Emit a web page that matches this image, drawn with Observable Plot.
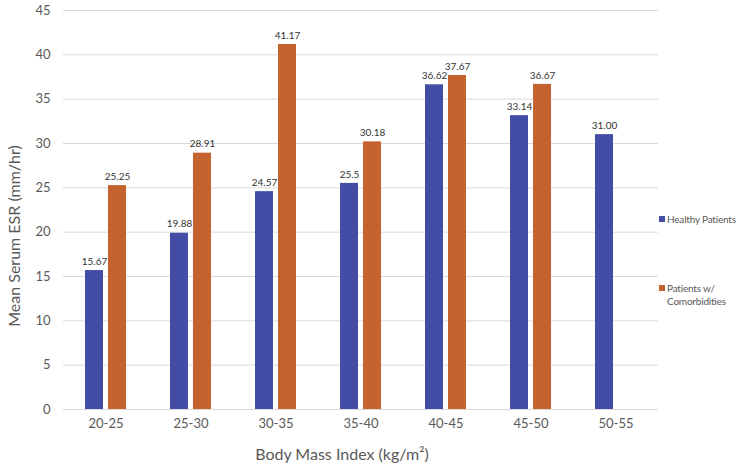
<!DOCTYPE html>
<html>
<head>
<meta charset="utf-8">
<script src="https://cdn.jsdelivr.net/npm/d3@7"></script>
<script src="https://cdn.jsdelivr.net/npm/@observablehq/plot@0.6"></script>
<style>
  html, body { margin: 0; padding: 0; background: #fff; overflow: hidden; }
  #wrap { position: relative; width: 740px; height: 469px; font-family: Lato, "Open Sans", sans-serif; }
  .ytitle { position: absolute; left: 13px; top: 236px; transform: translate(-50%, -50%) rotate(-90deg); font-size: 16px; color: #595959; white-space: nowrap; }
  .xtitle { position: absolute; left: 342px; top: 453px; transform: translate(-50%, -50%); font-size: 16px; color: #595959; white-space: nowrap; }
  .leg { position: absolute; left: 659px; font-size: 10px; letter-spacing: -0.2px; color: #595959; line-height: 13px; white-space: nowrap; }
  .leg .sw { position: absolute; left: 0; top: 3px; width: 6px; height: 6px; }
  .leg .tx { margin-left: 8px; }
</style>
</head>
<body>
<div id="wrap">
  <div id="chart"></div>
  <div class="ytitle">Mean Serum ESR (mm/hr)</div>
  <div class="xtitle">Body Mass Index (kg/m²)</div>
  <div class="leg" style="top:213px"><span class="sw" style="background:#434DA6"></span><div class="tx">Healthy Patients</div></div>
  <div class="leg" style="top:282px"><span class="sw" style="background:#C5632F"></span><div class="tx">Patients w/<br>Comorbidities</div></div>
</div>
<script>
const categories = ["20-25", "25-30", "30-35", "35-40", "40-45", "45-50", "50-55"];
const series = ["Healthy Patients", "Patients w/ Comorbidities"];
const healthy = [15.67, 19.88, 24.57, 25.5, 36.62, 33.14, 31.00];
const comorbid = [25.25, 28.91, 41.17, 30.18, 37.67, 36.67, null];
const healthyLabels = ["15.67", "19.88", "24.57", "25.5", "36.62", "33.14", "31.00"];
const comorbidLabels = ["25.25", "28.91", "41.17", "30.18", "37.67", "36.67", null];
const yTicks = [0, 5, 10, 15, 20, 25, 30, 35, 40, 45];
const colors = ["#434DA6", "#C5632F"];

const data = [];
categories.forEach((c, i) => {
  if (healthy[i] != null) data.push({category: c, series: series[0], value: healthy[i], label: healthyLabels[i]});
  if (comorbid[i] != null) data.push({category: c, series: series[1], value: comorbid[i], label: comorbidLabels[i]});
});

const chart = Plot.plot({
  width: 740,
  height: 469,
  marginLeft: 63,
  marginRight: 82,
  marginTop: 10,
  marginBottom: 60,
  style: {fontFamily: "Lato, 'Open Sans', sans-serif", fontSize: "13px", color: "#595959", background: "#fff"},
  fx: {domain: categories, paddingInner: 0, paddingOuter: 0, label: null, axis: "bottom", tickSize: 0, tickPadding: 9},
  x: {domain: series, paddingInner: 5 / 24, paddingOuter: 0.875, axis: null},
  y: {domain: [0, 45], ticks: yTicks, label: null, tickSize: 0, tickPadding: 13},
  color: {domain: series, range: colors},
  marks: [
    Plot.ruleY(yTicks, {stroke: "#d9d9d9", strokeWidth: 1}),
    Plot.barY(data, {fx: "category", x: "series", y: "value", fill: "series"}),
    Plot.text(data, {fx: "category", x: "series", y: "value", text: "label", dy: -9, fontSize: 10, fontWeight: "normal", fill: "#333333"})
  ]
});
document.getElementById("chart").appendChild(chart);
</script>
</body>
</html>
